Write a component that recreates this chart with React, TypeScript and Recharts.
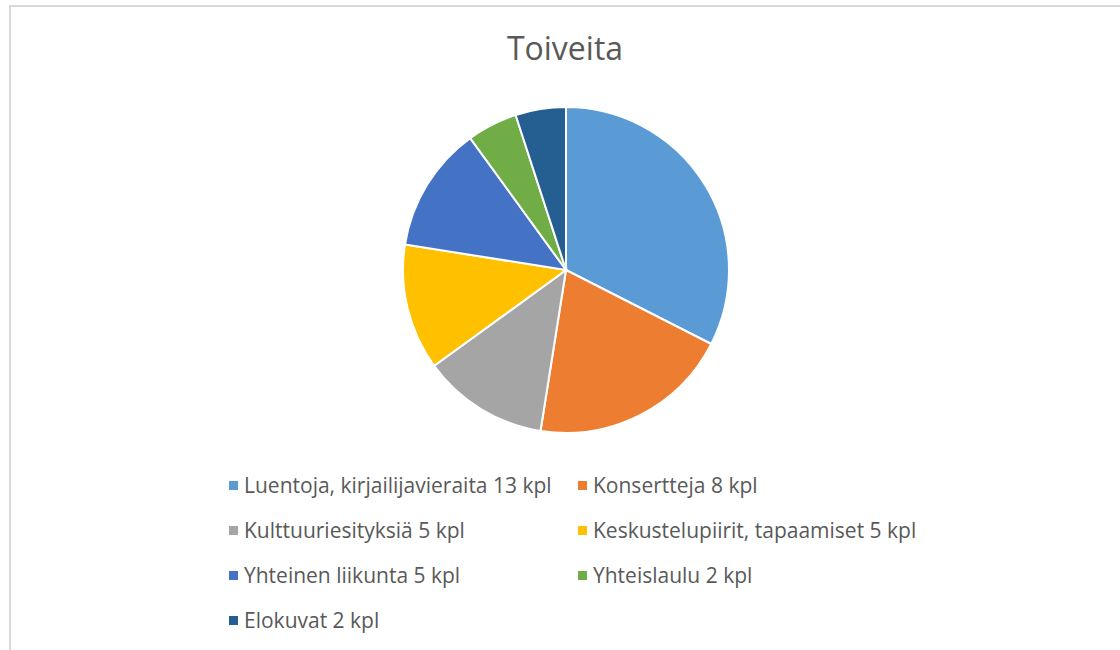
import React from "react";
import { PieChart, Pie, Cell, Legend } from "recharts";

const categories = [
  "Luentoja, kirjailijavieraita 13 kpl",
  "Konsertteja 8 kpl",
  "Kulttuuriesityksiä 5 kpl",
  "Keskustelupiirit, tapaamiset 5 kpl",
  "Yhteinen liikunta 5 kpl",
  "Yhteislaulu 2 kpl",
  "Elokuvat 2 kpl",
];
const values = [13, 8, 5, 5, 5, 2, 2];
const colors = ["#5B9BD5", "#ED7D31", "#A5A5A5", "#FFC000", "#4472C4", "#70AD47", "#255E91"];
const title = "Toiveita";

const data = categories.map((name, i) => ({ name, value: values[i] }));

const FONT = "'Open Sans', sans-serif";

const LegendContent = () => (
  <div style={{ position: "relative", width: 760, height: 180 }}>
    {categories.map((name, i) => {
      const col = i % 2;
      const row = Math.floor(i / 2);
      return (
        <div
          key={name}
          style={{
            position: "absolute",
            left: col * 349,
            top: row * 45,
            display: "flex",
            alignItems: "center",
            whiteSpace: "nowrap",
            fontFamily: FONT,
            fontSize: 21,
            color: "#595959",
            height: 28,
          }}
        >
          <span style={{ display: "inline-block", width: 9, height: 9, background: colors[i], marginRight: 6 }} />
          <span>{name}</span>
        </div>
      );
    })}
  </div>
);

export default function App() {
  return (
    <div style={{ position: "absolute", left: 0, top: 0, width: 1120, height: 650, overflow: "hidden", background: "#fff" }}>
      <div
        style={{
          position: "absolute",
          left: 9,
          top: 5,
          width: 1200,
          height: 800,
          border: "2px solid #d9d9d9",
        }}
      />
      <div
        style={{
          position: "absolute",
          left: 0,
          top: 26,
          width: 1130,
          textAlign: "center",
          fontFamily: FONT,
          fontSize: 32,
          color: "#595959",
        }}
      >
        {title}
      </div>
      <div style={{ position: "absolute", left: 0, top: 0 }}>
        <PieChart width={1120} height={650} margin={{ top: 0, right: 0, bottom: 0, left: 0 }}>
          <Pie
            data={data}
            dataKey="value"
            nameKey="name"
            cx={566}
            cy={270}
            outerRadius={163}
            startAngle={90}
            endAngle={-270}
            stroke="#ffffff"
            strokeWidth={2}
            isAnimationActive={false}
          >
            {data.map((d, i) => (
              <Cell key={d.name} fill={colors[i]} />
            ))}
          </Pie>
          <Legend
            content={<LegendContent />}
            wrapperStyle={{ position: "absolute", left: 229, top: 471, width: 760 }}
          />
        </PieChart>
      </div>
    </div>
  );
}
